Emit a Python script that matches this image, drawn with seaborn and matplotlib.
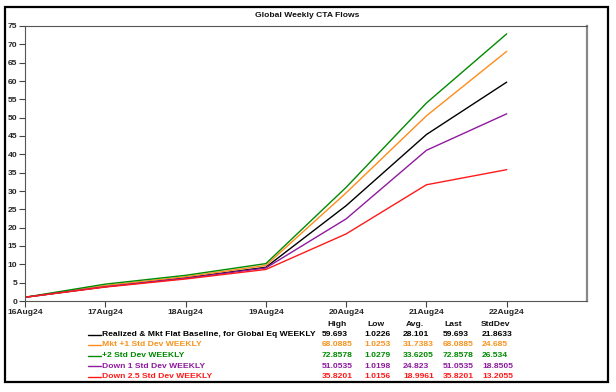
import matplotlib
matplotlib.use("Agg")
import matplotlib.pyplot as plt
import seaborn as sns
import pandas as pd
from matplotlib.lines import Line2D
from matplotlib.patches import Rectangle

dates = ["16Aug24", "17Aug24", "18Aug24", "19Aug24", "20Aug24", "21Aug24", "22Aug24"]
series_names = [
    "Realized & Mkt Flat Baseline, for Global Eq WEEKLY",
    "Mkt +1 Std Dev WEEKLY",
    "+2 Std Dev WEEKLY",
    "Down 1 Std Dev WEEKLY",
    "Down 2.5 Std Dev WEEKLY",
]
baseline = [1.0226, 3.9, 6.3, 9.2, 26.0, 45.4, 59.693]
up1 = [1.0253, 4.2, 6.6, 9.7, 29.5, 50.5, 68.0885]
up2 = [1.0279, 4.6, 7.0, 10.2, 31.0, 54.0, 72.8578]
down1 = [1.0198, 3.9, 6.2, 9.0, 22.4, 41.1, 51.0535]
down25 = [1.0156, 3.8, 6.0, 8.6, 18.3, 31.7, 35.8201]

stat_headers = ["High", "Low", "Avg.", "Last", "StdDev"]
high = ["59.693", "68.0885", "72.8578", "51.0535", "35.8201"]
low = ["1.0226", "1.0253", "1.0279", "1.0198", "1.0156"]
avg = ["28.101", "31.7383", "33.6205", "24.823", "18.9961"]
last = ["59.693", "68.0885", "72.8578", "51.0535", "35.8201"]
stdev = ["21.8633", "24.685", "26.534", "18.8505", "13.2055"]

colors = ["#000000", "#FF8C1A", "#008A00", "#8E1A9E", "#FF1A1A"]
text_colors = ["#000000", "#F7931E", "#008A00", "#8E1A9E", "#FF1A1A"]

all_vals = [baseline, up1, up2, down1, down25]
rows = []
for name, vals in zip(series_names, all_vals):
    for i, v in enumerate(vals):
        rows.append({"idx": i, "value": v, "series": name})
df = pd.DataFrame(rows)

sns.set_style("white")
plt.rcParams["font.family"] = ["Liberation Sans", "DejaVu Sans"]
FW = "bold"
FS = 6.1

W, H = 616, 392
fig = plt.figure(figsize=(W / 100, H / 100), dpi=100)
fig.patch.set_facecolor("white")

def fx(px):
    return px / W

def fy(py):
    return 1 - py / H

ax = fig.add_axes([fx(25), fy(301), fx(587) - fx(25), fy(26) - fy(301)])
sns.lineplot(data=df, x="idx", y="value", hue="series", hue_order=series_names,
             palette=colors, linewidth=1.0, legend=False, ax=ax)

ax.set_xlim(0, 7)
ax.set_ylim(0, 75)
ax.set_xticks(range(len(dates)))
ax.set_xticklabels(dates, fontweight=FW)
ax.set_yticks(range(0, 76, 5))
ax.set_yticklabels([str(v) for v in range(0, 76, 5)], fontweight=FW)
ax.set_xlabel("")
ax.set_ylabel("")
ax.tick_params(axis="both", direction="out", length=4, width=0.8, color="#444444",
               labelsize=FS, pad=1.5, left=True, bottom=True)
for s in ax.spines.values():
    s.set_color("#555555")
    s.set_linewidth(0.8)
ax.spines["right"].set_color("#888888")
ax.spines["right"].set_linewidth(1.6)

fig.text(fx(307), fy(15.5), "Global Weekly CTA Flows", ha="center", va="center",
         fontsize=FS, fontweight=FW, color="#111111")

# legend rows
row_y = [334.5, 345, 355.5, 366, 376.5]
for i, name in enumerate(series_names):
    y = fy(row_y[i])
    fig.add_artist(Line2D([fx(88), fx(101)], [y, y], color=colors[i], lw=1.0,
                          transform=fig.transFigure))
    fig.text(fx(101.5), y, name, ha="left", va="center", fontsize=FS,
             fontweight=FW, color=text_colors[i])

header_x = [337, 376, 415, 453, 496]
for hx, h in zip(header_x, stat_headers):
    fig.text(fx(hx), fy(324), h, ha="center", va="center", fontsize=FS,
             fontweight=FW, color="#111111")

col_left = [322, 364, 403, 443, 482]
cols = [high, low, avg, last, stdev]
for i in range(len(series_names)):
    y = fy(row_y[i])
    for cx, col in zip(col_left, cols):
        fig.text(fx(cx), y, col[i], ha="left", va="center", fontsize=FS,
                 fontweight=FW, color=text_colors[i])

# outer frame
fig.add_artist(Rectangle((fx(5), fy(382)), fx(608) - fx(5), fy(7) - fy(382),
                         transform=fig.transFigure, fill=False, edgecolor="black",
                         linewidth=1.6))

fig.savefig("out.png", dpi=100)
